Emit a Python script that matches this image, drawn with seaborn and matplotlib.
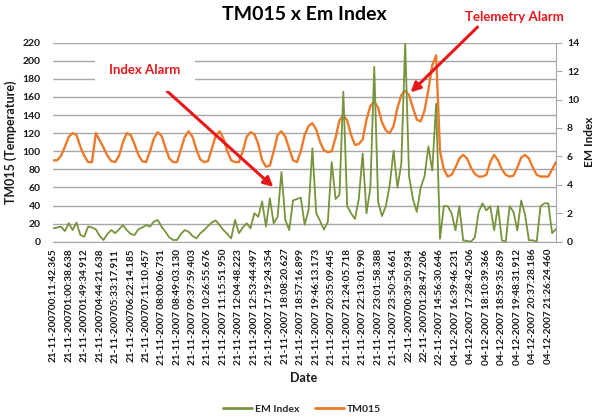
import pandas as pd
import matplotlib
matplotlib.use('Agg')
import matplotlib.pyplot as plt
import seaborn as sns


# x-axis labels (one every 4 readings)
date_labels = [
    '21-11-200700:11:42.365', '21-11-200701:00:38.638', '21-11-200701:49:34.912',
    '21-11-200704:44:21.638', '21-11-200705:33:17.911', '21-11-200706:22:14.185',
    '21-11-200707:11:10.457', '21-11-2007 08:00:06.731', '21-11-2007 08:49:03.130',
    '21-11-2007 09:37:59.403', '21-11-2007 10:26:55.676', '21-11-2007 11:15:51.950',
    '21-11-2007 12:04:48.223', '21-11-2007 12:53:44.497', '21-11-2007 17:19:24.354',
    '21-11-2007 18:08:20.627', '21-11-2007 18:57:16.899', '21-11-2007 19:46:13.173',
    '21-11-2007 20:35:09.445', '21-11-2007 21:24:05.718', '21-11-2007 22:13:01.990',
    '21-11-2007 23:01:58.388', '21-11-2007 23:50:54.661', '22-11-200700:39:50.934',
    '22-11-200701:28:47.206', '22-11-2007 14:56:30.646', '04-12-2007 16:39:46.231',
    '04-12-2007 17:28:42.506', '04-12-2007 18:10:39.366', '04-12-2007 18:59:35.639',
    '04-12-2007 19:48:31.912', '04-12-2007 20:37:28.186', '04-12-2007 21:26:24.460',
]
label_step = 4

tm015 = [
    90, 90, 95, 105, 116, 120, 118, 105, 95, 88,
    88, 120, 112, 104, 95, 89, 88, 95, 110, 120,
    118, 108, 96, 89, 88, 100, 114, 121, 117, 104,
    92, 88, 88, 102, 116, 122, 116, 102, 91, 88,
    89, 103, 117, 122, 114, 100, 90, 88, 88, 100,
    116, 121, 119, 108, 90, 83, 84, 100, 118, 122,
    116, 103, 90, 88, 100, 118, 128, 131, 124, 110,
    101, 99, 100, 115, 134, 140, 134, 118, 107, 108,
    113, 135, 150, 155, 148, 132, 123, 120, 128, 148,
    162, 167, 162, 148, 135, 133, 145, 168, 195, 206,
    100, 80, 72, 74, 82, 92, 96, 92, 82, 75,
    72, 72, 74, 88, 96, 90, 80, 74, 72, 73,
    82, 93, 96, 92, 82, 74, 72, 72, 72, 80,
    88,
]

em_index = [
    0.94, 1.0, 1.06, 0.75, 1.3, 0.82, 1.35, 0.47, 0.35, 1.06,
    1.0, 0.87, 0.4, 0.12, 0.55, 0.82, 0.6, 0.87, 1.17, 0.82,
    0.55, 0.47, 0.87, 1.0, 1.17, 1.06, 1.41, 1.53, 1.06, 0.7,
    0.3, 0.12, 0.12, 0.55, 0.82, 0.7, 0.4, 0.23, 0.59, 0.82,
    1.1, 1.35, 1.5, 1.17, 0.82, 0.55, 0.23, 1.53, 0.6, 1.0,
    1.29, 0.94, 2.0, 1.76, 2.82, 1.06, 3.05, 1.29, 1.76, 4.9,
    1.53, 0.82, 2.9, 3.0, 3.1, 1.2, 2.2, 6.57, 2.0, 1.45,
    0.85, 1.4, 5.6, 3.0, 3.3, 10.55, 2.5, 2.0, 1.6, 3.0,
    6.2, 2.0, 3.8, 12.3, 2.8, 1.8, 2.5, 4.0, 6.4, 3.8,
    5.5, 14.0, 4.6, 3.0, 2.1, 3.8, 4.6, 6.7, 5.0, 9.7,
    0.2, 2.5, 2.5, 2.0, 0.8, 2.5, 0.1, 0.05, 0.0, 0.3,
    2.1, 2.7, 2.2, 2.5, 0.8, 2.5, 0.1, 0.0, 2.5, 2.1,
    0.8, 2.9, 1.9, 0.1, 0.1, 0.0, 2.5, 2.7, 2.7, 0.6,
    0.9,
]

df = pd.DataFrame({'idx': range(len(tm015)), 'TM015': tm015, 'EM Index': em_index})

green = '#77933C'
orange = '#EC7A2A'
red = '#E8171B'
grid_c = '#A6A6A6'
text_c = '#1A1A1A'

sns.set_style('white')
plt.rcParams['font.family'] = ['Lato', 'DejaVu Sans']

fig = plt.figure(figsize=(5.93, 4.19), dpi=100)
ax = fig.add_axes([53.3 / 593, 1 - 241.7 / 419, (556 - 53.3) / 593, (241.7 - 42.7) / 419])
ax2 = ax.twinx()

sns.lineplot(data=df, x='idx', y='TM015', ax=ax, color=orange, lw=1.7, legend=False)
sns.lineplot(data=df, x='idx', y='EM Index', ax=ax2, color=green, lw=1.3, legend=False)

ax.set_xlim(0, len(tm015) - 1)
ax.set_ylim(0, 220)
ax.set_yticks(range(0, 221, 20))
ax2.set_ylim(0, 14)
ax2.set_yticks(range(0, 15, 2))

ax.set_xticks(range(0, len(tm015), label_step)[:len(date_labels)])
ax.set_xticklabels(date_labels, rotation=90, fontsize=7.2, fontweight='bold', color=text_c)
ax.tick_params(axis='x', length=0, pad=5)
ax.tick_params(axis='y', length=0, pad=9, labelsize=7.5, labelcolor=text_c)
ax2.tick_params(axis='y', length=4, width=0.8, color=grid_c, pad=4, labelsize=7.5, labelcolor=text_c)
for t in ax.get_yticklabels() + ax2.get_yticklabels():
    t.set_fontweight('bold')

ax.grid(axis='y', color=grid_c, lw=1.0)
ax.grid(axis='x', visible=False)
for a in (ax, ax2):
    for s in a.spines.values():
        s.set_visible(False)
ax2.spines['right'].set_visible(True)
ax2.spines['right'].set_color(grid_c)
ax2.spines['bottom'].set_visible(True)
ax2.spines['bottom'].set_color(grid_c)

ax.set_xlabel('')
ax.set_ylabel('TM015 (Temperature)', fontsize=9, fontweight='bold', color=text_c, labelpad=4)
ax2.set_ylabel('EM Index', fontsize=8.5, fontweight='bold', color=text_c, labelpad=3)

fig.text(304 / 593, 1 - 378 / 419, 'Date', ha='center', va='center',
         fontsize=9, fontweight='bold', color=text_c)
fig.text(304 / 593, 1 - 15 / 419, 'TM015 x Em Index', ha='center', va='center',
         fontsize=14, fontweight='bold', color='black')

# alarm call-outs
fig.text(145 / 593, 1 - 70 / 419, 'Index Alarm', ha='center', va='center', fontsize=9.5,
         fontweight='bold', color=red, zorder=5,
         bbox=dict(boxstyle='square,pad=1.1', fc='white', ec='none'))
fig.text(514 / 593, 1 - 17 / 419, 'Telemetry Alarm', ha='center', va='center', fontsize=9.5,
         fontweight='bold', color=red)
arrow = dict(arrowstyle='-|>', color=red, lw=2.2, mutation_scale=14, shrinkA=0, shrinkB=0)
ax2.annotate('', xy=(56.9, 3.85), xytext=(29.4, 10.6), arrowprops=arrow)
ax2.annotate('', xy=(92.4, 10.5), xytext=(109.7, 15.1), arrowprops=arrow,
             annotation_clip=False)

handles = [plt.Line2D([], [], color=green, lw=2), plt.Line2D([], [], color=orange, lw=2)]
fig.legend(handles, ['EM Index', 'TM015'], loc='center', bbox_to_anchor=(302 / 593, 1 - 409 / 419),
           ncol=2, frameon=False, handlelength=2.8, columnspacing=1.5, handletextpad=0.3,
           prop={'size': 7.5, 'weight': 'bold'})

fig.savefig('out.png', dpi=100)
